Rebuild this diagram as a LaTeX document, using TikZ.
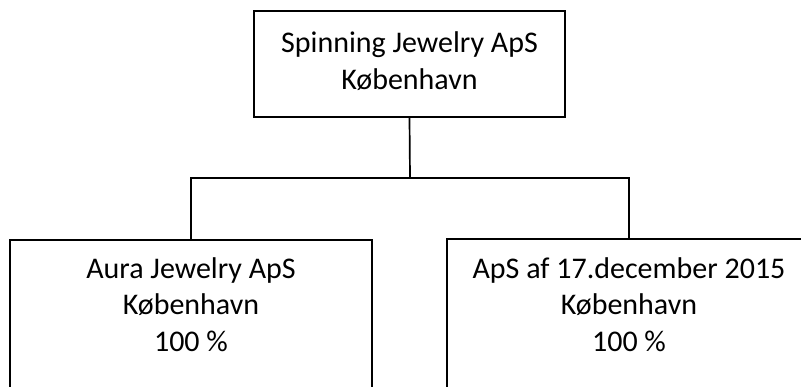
\documentclass[tikz,border=0pt]{standalone}
\usepackage{fontspec}
\setmainfont{Carlito}
\begin{document}
\begin{tikzpicture}[x=1pt,y=1pt,
  box/.style={draw=black, line width=1.7pt, rectangle, inner sep=0pt},
  txt/.style={align=center, inner sep=0pt, font=\fontsize{30}{36.5}\selectfont},
  conn/.style={draw=black, line width=1.7pt}]
\useasboundingbox (0,0) rectangle (801,-387);
\clip (0,0) rectangle (801,-387);
\node[box, minimum width=311pt, minimum height=106pt] (top) at (409.5,-64) {};
\node[box, minimum width=362pt, minimum height=220pt, anchor=north] (left) at (191,-239) {};
\node[box, minimum width=364pt, minimum height=220pt, anchor=north] (right) at (629,-238) {};
\coordinate (j) at (410,-178);
\draw[conn] (top.south) -- (j);
\draw[conn] (left.north) |- (j) -| (right.north);
\node[txt, anchor=north] (toptext) at (409.5,-31.5) {Spinning Jewelry ApS\\København};
\node[txt, anchor=north] (lefttext) at (191,-257) {Aura Jewelry ApS\\København\\100 \%};
\node[txt, anchor=north] (righttext) at (629,-257) {ApS af 17.december 2015\\København\\100 \%};
\end{tikzpicture}
\end{document}
